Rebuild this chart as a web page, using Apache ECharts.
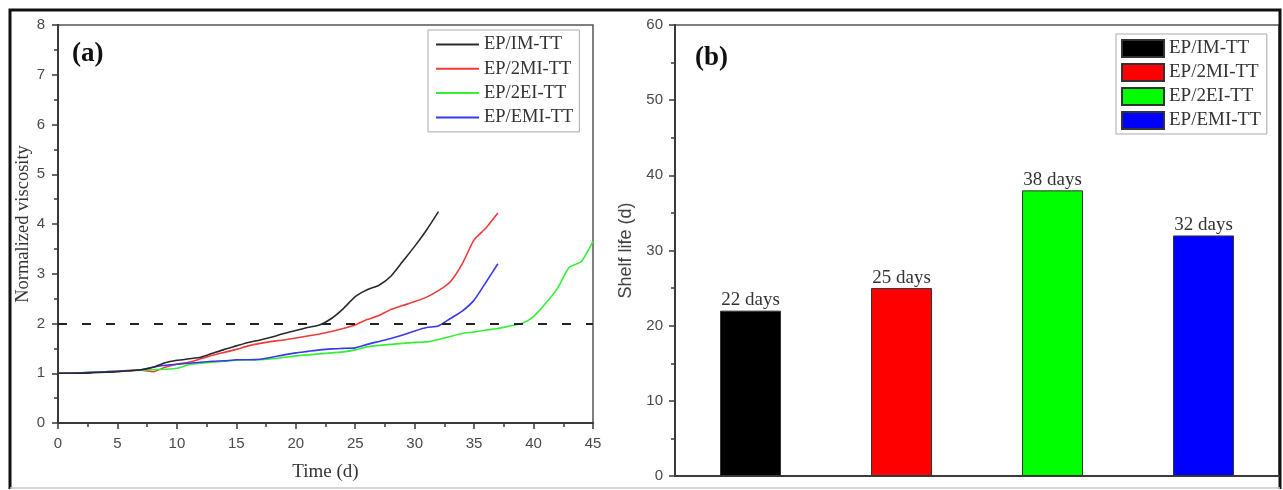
<!DOCTYPE html>
<html>
<head>
<meta charset="utf-8">
<script src="https://cdn.jsdelivr.net/npm/echarts@6/dist/echarts.min.js"></script>
<style>
html,body{margin:0;padding:0;background:#fff;}
#chart{width:1283px;height:490px;}
</style>
</head>
<body>
<div id="chart"></div>
<script>
// ---- Data ----
const seriesNames = ['EP/IM-TT', 'EP/2MI-TT', 'EP/2EI-TT', 'EP/EMI-TT'];
const seriesColors = ['#2a2a2a', '#f23a3a', '#35ef35', '#3838f0'];
const barColors = ['#000000', '#ff0000', '#00ff00', '#0000ff'];

// Normalized viscosity, one value per day starting at day 0
const viscIM = [1.0,1.0,1.0,1.01,1.02,1.03,1.05,1.07,1.12,1.21,1.26,1.29,1.32,1.4,1.48,1.55,1.62,1.67,1.73,1.8,1.86,1.92,1.97,2.1,2.3,2.54,2.68,2.77,2.95,3.25,3.55,3.88,4.25];
const visc2MI = [1.0,1.0,1.01,1.02,1.03,1.04,1.06,1.06,1.03,1.12,1.18,1.22,1.29,1.36,1.42,1.48,1.55,1.6,1.64,1.67,1.71,1.75,1.79,1.84,1.9,1.97,2.08,2.16,2.28,2.36,2.44,2.53,2.66,2.84,3.2,3.68,3.92,4.22];
const visc2EI = [1.0,1.0,1.01,1.02,1.03,1.04,1.05,1.06,1.07,1.08,1.1,1.17,1.2,1.22,1.24,1.26,1.27,1.27,1.29,1.32,1.35,1.37,1.39,1.41,1.43,1.47,1.53,1.56,1.58,1.6,1.62,1.63,1.68,1.74,1.8,1.83,1.87,1.9,1.95,2.0,2.14,2.4,2.7,3.13,3.24,3.65];
const viscEMI = [1.0,1.0,1.01,1.02,1.03,1.04,1.05,1.07,1.12,1.16,1.18,1.2,1.22,1.24,1.25,1.27,1.27,1.28,1.32,1.37,1.41,1.44,1.47,1.49,1.5,1.51,1.58,1.64,1.7,1.77,1.85,1.92,1.95,2.1,2.25,2.47,2.83,3.2];
const thresholdViscosity = 2;

// Shelf life (days)
const shelfLife = [22, 25, 38, 32];

// Axis ticks
const timeTicks = {min: 0, max: 45, interval: 5};
const viscTicks = {min: 0, max: 8, interval: 1};
const lifeTicks = {min: 0, max: 60, interval: 10};

// ---- Chart ----
const viscData = [viscIM, visc2MI, visc2EI, viscEMI];
const serif = '"Liberation Serif", "Times New Roman", serif';
const sans = '"Liberation Sans", Arial, sans-serif';
const axisColor = '#3a3a3a';
const labelColor = '#4a4a4a';

const chart = echarts.init(document.getElementById('chart'), null, {renderer: 'canvas'});

const lineSeries = viscData.map((arr, i) => {
  const s = {
    name: seriesNames[i],
    type: 'line',
    xAxisIndex: 0, yAxisIndex: 0,
    data: arr.map((v, d) => [d, v]),
    symbol: 'none',
    smooth: 0.2,
    color: seriesColors[i],
    lineStyle: {width: 1.6, color: seriesColors[i]},
    z: 3 + (i === 0 ? 1 : 0),
    animation: false
  };
  if (i === 0) {
    s.markLine = {
      silent: true,
      symbol: 'none',
      label: {show: false},
      lineStyle: {color: '#222', type: [9, 15], width: 2},
      data: [{yAxis: thresholdViscosity}],
      animation: false
    };
  }
  return s;
});

const barSeries = shelfLife.map((v, i) => ({
  name: 'b:' + seriesNames[i],
  type: 'bar',
  xAxisIndex: 1, yAxisIndex: 1,
  stack: 'life',
  barWidth: 61,
  data: seriesNames.map((n, j) => (j === i ? v : '-')),
  itemStyle: {color: barColors[i], borderColor: '#333', borderWidth: 1},
  label: {
    show: true, position: 'top', distance: 1,
    formatter: p => p.value + ' days',
    fontFamily: serif, fontSize: 19, color: '#333'
  },
  animation: false
}));

const option = {
  backgroundColor: '#fff',
  animation: false,
  title: [
    {text: '(a)', left: 67, top: 36, textStyle: {fontFamily: serif, fontWeight: 'bold', fontSize: 27, color: '#111'}},
    {text: '(b)', left: 690, top: 40, textStyle: {fontFamily: serif, fontWeight: 'bold', fontSize: 27, color: '#111'}}
  ],
  legend: [
    {
      data: seriesNames,
      left: 428, top: 30,
      orient: 'vertical',
      icon: 'path://M0,0H43V2H0Z',
      itemWidth: 43, itemHeight: 17, itemGap: 5.3,
      padding: [5, 6, 5, 8],
      borderColor: '#aaa', borderWidth: 1,
      textStyle: {fontFamily: serif, fontSize: 18.5, color: '#333', lineHeight: 17},
      selectedMode: false
    },
    {
      data: seriesNames.map(n => 'b:' + n),
      formatter: n => n.replace('b:', ''),
      left: 1116, top: 34,
      orient: 'vertical',
      icon: 'rect',
      itemWidth: 42, itemHeight: 17, itemGap: 5,
      padding: [5, 6, 4, 5],
      borderColor: '#aaa', borderWidth: 1,
      textStyle: {fontFamily: serif, fontSize: 19, color: '#333', lineHeight: 17},
      selectedMode: false
    }
  ],
  grid: [
    {left: 58, top: 25, width: 535, height: 398, show: true, borderColor: '#555', borderWidth: 1.5, backgroundColor: 'transparent'},
    {left: 675, top: 25, width: 604, height: 451, show: true, borderColor: '#555', borderWidth: 1.5, backgroundColor: 'transparent'}
  ],
  xAxis: [
    {
      gridIndex: 0, type: 'value',
      min: timeTicks.min, max: timeTicks.max, interval: timeTicks.interval,
      name: 'Time (d)', nameLocation: 'middle', nameGap: 40,
      nameTextStyle: {fontFamily: serif, fontSize: 19, color: '#333'},
      axisLine: {lineStyle: {color: axisColor, width: 2}},
      axisTick: {length: 6, lineStyle: {color: axisColor, width: 1.5}},
      minorTick: {show: true, splitNumber: 2, length: 4, lineStyle: {color: axisColor, width: 1.5}},
      axisLabel: {fontFamily: sans, fontSize: 15, color: labelColor, margin: 13},
      splitLine: {show: false}
    },
    {
      gridIndex: 1, type: 'category',
      data: seriesNames,
      axisLine: {lineStyle: {color: axisColor, width: 2}},
      axisTick: {show: false},
      axisLabel: {show: false},
      splitLine: {show: false}
    }
  ],
  yAxis: [
    {
      gridIndex: 0, type: 'value',
      min: viscTicks.min, max: viscTicks.max, interval: viscTicks.interval,
      name: 'Normalized viscosity', nameLocation: 'middle', nameGap: 24,
      nameTextStyle: {fontFamily: serif, fontSize: 18.5, color: '#333'},
      axisLine: {show: true, lineStyle: {color: axisColor, width: 2}},
      axisTick: {show: true, length: 6, lineStyle: {color: axisColor, width: 1.5}},
      minorTick: {show: true, splitNumber: 2, length: 4, lineStyle: {color: axisColor, width: 1.5}},
      axisLabel: {fontFamily: sans, fontSize: 15, color: labelColor, margin: 13},
      splitLine: {show: false}
    },
    {
      gridIndex: 1, type: 'value',
      min: lifeTicks.min, max: lifeTicks.max, interval: lifeTicks.interval,
      name: 'Shelf life (d)', nameLocation: 'middle', nameGap: 40,
      nameTextStyle: {fontFamily: sans, fontSize: 18, color: '#444'},
      axisLine: {show: true, lineStyle: {color: axisColor, width: 2}},
      axisTick: {show: true, length: 6, lineStyle: {color: axisColor, width: 1.5}},
      minorTick: {show: true, splitNumber: 2, length: 4, lineStyle: {color: axisColor, width: 1.5}},
      axisLabel: {fontFamily: sans, fontSize: 15, color: labelColor, margin: 12},
      splitLine: {show: false}
    }
  ],
  graphic: [
    {type: 'polyline', silent: true, shape: {points: [[10, 489], [10, 10], [1280, 10], [1280, 489]]}, style: {stroke: '#111', lineWidth: 3, fill: null}},
    {type: 'line', silent: true, shape: {x1: 10, y1: 488, x2: 1280, y2: 488}, style: {stroke: '#c8c8c8', lineWidth: 1.5}}
  ],
  series: lineSeries.concat(barSeries)
};

chart.setOption(option);
</script>
</body>
</html>
